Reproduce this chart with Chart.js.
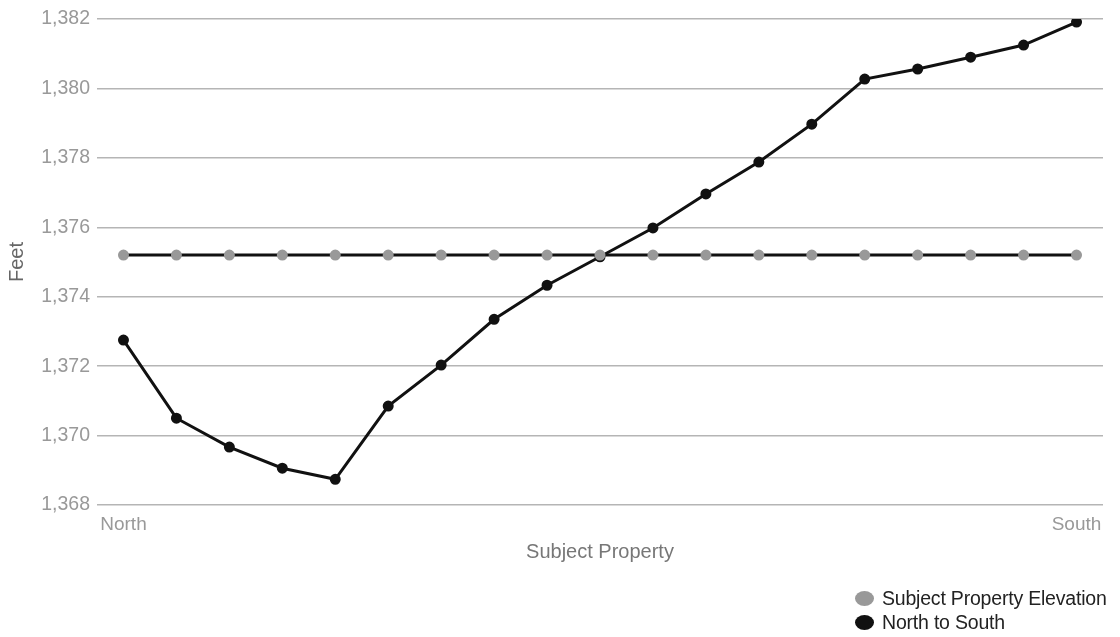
<!DOCTYPE html>
<html>
<head>
<meta charset="utf-8">
<script src="https://cdn.jsdelivr.net/npm/chart.js@4/dist/chart.umd.min.js"></script>
<style>
  html, body { margin: 0; padding: 0; background: #fff; }
  #wrap { position: relative; width: 1120px; height: 637px; }
  #legend { position: absolute; left: 855px; top: 586px; font-family: "Liberation Sans", Arial, sans-serif; font-size: 19.5px; color: #222; line-height: 24px; letter-spacing: -0.2px; }
  #legend span.dot { display: inline-block; width: 19px; height: 15px; border-radius: 50%; margin-right: 8px; vertical-align: -1px; }
</style>
</head>
<body>
<div id="wrap">
  <canvas id="chart" width="1120" height="637"></canvas>
  <div id="legend"></div>
</div>
<script>
// Dữ liệu
const labels = ["North", "", "", "", "", "", "", "", "", "", "", "", "", "", "", "", "", "", "South"];
const elevation = [1375.2, 1375.2, 1375.2, 1375.2, 1375.2, 1375.2, 1375.2, 1375.2, 1375.2, 1375.2,
                   1375.2, 1375.2, 1375.2, 1375.2, 1375.2, 1375.2, 1375.2, 1375.2, 1375.2];
const northToSouth = [1372.75, 1370.5, 1369.67, 1369.06, 1368.74, 1370.85, 1372.03, 1373.35, 1374.33, 1375.15,
                      1375.98, 1376.96, 1377.88, 1378.97, 1380.27, 1380.56, 1380.9, 1381.25, 1381.91];
const yTicks = [1368, 1370, 1372, 1374, 1376, 1378, 1380, 1382];

const font = "'Liberation Sans', Arial, sans-serif";

const ctx = document.getElementById('chart').getContext('2d');
const chart = new Chart(ctx, {
    type: 'line',
    data: {
        labels: labels,
        datasets: [{
            label: 'Subject Property Elevation',
            data: elevation,
            borderColor: '#111',
            borderWidth: 3,
            pointBackgroundColor: '#999',
            pointBorderColor: '#999',
            pointRadius: 4,
            tension: 0,
            order: 0
        }, {
            label: 'North to South',
            data: northToSouth,
            borderColor: '#111',
            borderWidth: 3,
            pointBackgroundColor: '#111',
            pointBorderColor: '#111',
            pointRadius: 4,
            tension: 0,
            order: 1
        }]
    },
    options: {
        responsive: false,
        animation: false,
        layout: { padding: { top: 19, right: 17, bottom: 72, left: 0 } },
        plugins: {
            legend: { display: false },
            tooltip: { enabled: false }
        },
        scales: {
            x: {
                offset: true,
                grid: { display: false },
                border: { display: false },
                ticks: { color: '#999', font: { family: font, size: 19 }, maxRotation: 0, autoSkip: false, padding: 0 },
                title: { display: true, text: 'Subject Property', color: '#777', font: { family: font, size: 20 }, padding: { top: 4, bottom: 1 } },
                afterFit: s => { s.height = 60; }
            },
            y: {
                min: 1368,
                max: 1382,
                afterBuildTicks: s => { s.ticks = yTicks.map(v => ({ value: v })); },
                grid: { color: '#b5b5b5', lineWidth: 1.5, drawTicks: false },
                border: { display: false },
                ticks: {
                    color: '#999',
                    font: { family: font, size: 19.5 },
                    padding: 7,
                    callback: v => v.toLocaleString('en-US')
                },
                title: { display: true, text: 'Feet', color: '#666', font: { family: font, size: 20 }, padding: { top: 5, bottom: 0 } },
                afterFit: s => { s.width = 97; }
            }
        }
    }
});

// Chú thích
const legendEl = document.getElementById('legend');
[['Subject Property Elevation', '#999'], ['North to South', '#111']].forEach(([text, color]) => {
    const row = document.createElement('div');
    row.innerHTML = `<span class="dot" style="background:${color}"></span>${text}`;
    legendEl.appendChild(row);
});
</script>
</body>
</html>
